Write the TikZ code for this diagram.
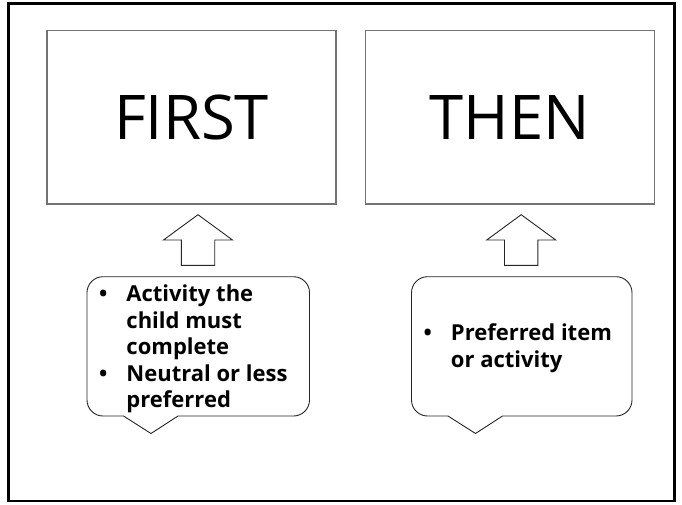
\documentclass[tikz,border=0pt]{standalone}
\usepackage{fontspec}
\setmainfont{Open Sans}
\usetikzlibrary{calc}

\begin{document}
\begin{tikzpicture}[x=1pt,y=1pt,
    card/.style={draw=black!55, line width=1.2pt, minimum width=289pt, minimum height=173.3pt,
      inner sep=0pt, font=\fontsize{61.6}{70}\selectfont},
    blockarrow/.style={draw=black!85, line width=0.9pt, fill=white},
    bubble/.style={draw=black!85, line width=0.9pt, fill=white},
    bullets/.style={anchor=base west, inner sep=0pt, font=\bfseries\fontsize{22}{26.5}\selectfont}]
    \useasboundingbox (0,0) rectangle (682,504);
    \draw[line width=2.4pt] (8.5,3) rectangle (674.5,500.5);

    \node[card] (first) at (191.5,386.7) {FIRST};
    \node[card] (then) at (509.7,386.7) {THEN};

    % up arrows under the cards
    \foreach \ax in {198,521.2}
        \draw[blockarrow, shift={(\ax,238.7)}] (-16.7,0) -- (-16.7,25.3) -- (-34.5,25.3) -- (0,50.6)
            -- (34.5,25.3) -- (16.7,25.3) -- (16.7,0) -- cycle;

    % speech bubbles
    \foreach \cx/\cw in {87/222.5,411.5/220.5}
        \draw[bubble] (\cx+91,88) -- (\cx+\cw-16,88) arc[start angle=270,end angle=360,radius=16]
            -- (\cx+\cw,211.3) arc[start angle=0,end angle=90,radius=16]
            -- (\cx+16,227.3) arc[start angle=90,end angle=180,radius=16]
            -- (\cx,104) arc[start angle=180,end angle=270,radius=16]
            -- (\cx+36.5,88) -- (\cx+64,70.5) -- cycle;

    \node[bullets] (firstnote) at (99,202.3) {\begin{tabular}[t]{@{}l@{\hspace{19pt}}l@{}}
        \textbullet & Activity the\\ & child must\\ & complete\\
        \textbullet & Neutral or less\\ & preferred\end{tabular}};
    \node[bullets] (thennote) at (423.5,163.3) {\begin{tabular}[t]{@{}l@{\hspace{19pt}}l@{}}
        \textbullet & Preferred item\\ & or activity\end{tabular}};
\end{tikzpicture}
\end{document}
